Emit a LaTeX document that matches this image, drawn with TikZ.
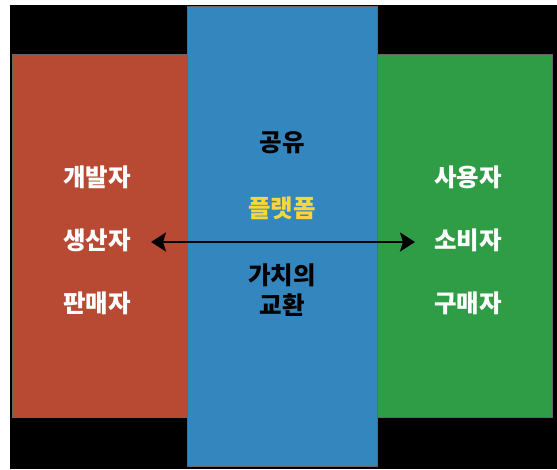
\documentclass[tikz,border=0pt]{standalone}
\usepackage{fontspec}
\setmainfont{Noto Sans CJK KR}
\usepackage{tikz}
\usetikzlibrary{arrows.meta}
\definecolor{panelred}{RGB}{184,74,52}
\definecolor{panelblue}{RGB}{52,134,190}
\definecolor{panelgreen}{RGB}{47,156,70}
\definecolor{platyellow}{RGB}{247,214,60}
\tikzset{%
  panel/.style={draw=black!60, line width=0.4pt},
  role/.style={font=\fontsize{24.5}{30}\selectfont\bfseries, text=white, inner sep=1pt},
  mid/.style={font=\fontsize{24.5}{30}\selectfont\bfseries, text=black, align=center, inner sep=1pt},
  swap/.style={line width=2.6pt, {Stealth[length=15pt,width=19pt,inset=3pt]}-{Stealth[length=15pt,width=19pt,inset=3pt]}}}

\begin{document}
\begin{tikzpicture}[x=1pt,y=-1pt]
\useasboundingbox (0,0) rectangle (557,469);
\fill[black] (10,5) rectangle (557,469);
\fill[panelred, panel] (12,54) rectangle (187,417);
\fill[panelgreen, panel] (377,54) rectangle (552,417);
\fill[panelblue, panel] (187,6) rectangle (377,466);
% left side
\node[role] (gaebal) at (97,177) {개발자};
\node[role] (saengsan) at (97,240) {생산자};
\node[role] (panmae) at (97,303) {판매자};
% right side
\node[role] (sayong) at (468,177) {사용자};
\node[role] (sobi) at (468,240) {소비자};
\node[role] (gumae) at (468,303) {구매자};
% middle
\node[mid] (gongyu) at (282,143) {공유};
\node[mid, text=platyellow] (platform) at (282,208) {플랫폼};
\node[mid] (gachi) at (282,290) {가치의\\교환};
\coordinate (arrL) at (151,242);
\coordinate (arrR) at (415,242);
\draw[swap] (arrL) -- (arrR);
\end{tikzpicture}
\end{document}
